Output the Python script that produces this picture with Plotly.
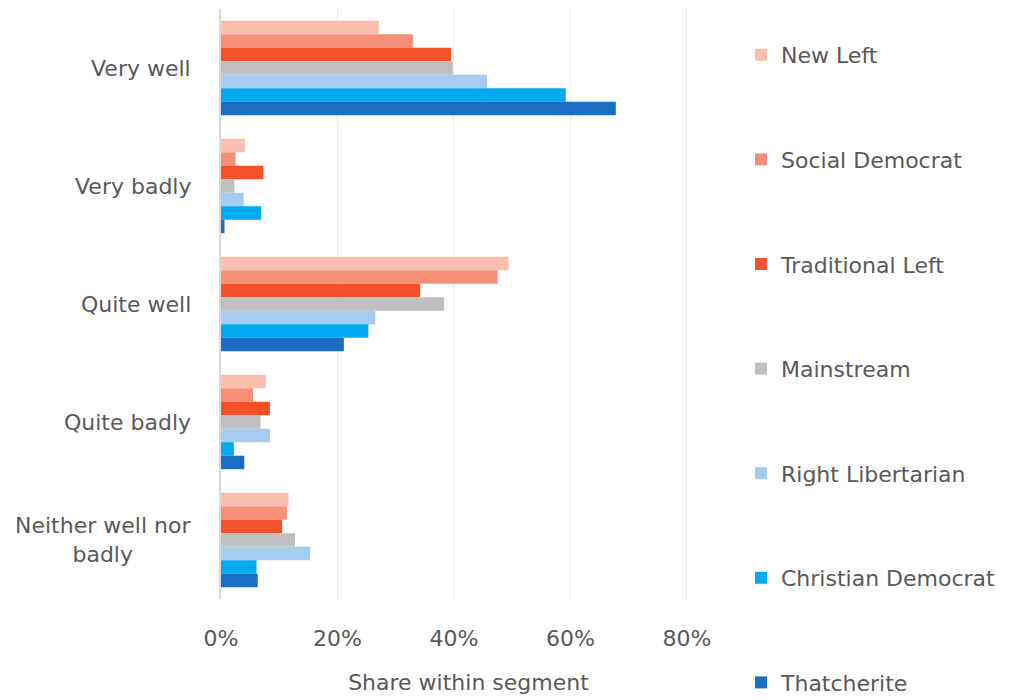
import plotly.graph_objects as go

categories = ["Very well", "Very badly", "Quite well", "Quite badly", "Neither well nor badly"]
category_labels = ["Very well", "Very badly", "Quite well", "Quite badly", "Neither well nor<br>badly"]

segments = ["New Left", "Social Democrat", "Traditional Left", "Mainstream",
            "Right Libertarian", "Christian Democrat", "Thatcherite"]

new_left = [27.1, 4.1, 49.4, 7.7, 11.6]
social_democrat = [33.0, 2.5, 47.5, 5.5, 11.3]
traditional_left = [39.5, 7.3, 34.2, 8.4, 10.5]
mainstream = [39.8, 2.3, 38.3, 6.8, 12.7]
right_libertarian = [45.7, 3.9, 26.5, 8.4, 15.3]
christian_democrat = [59.2, 6.9, 25.3, 2.2, 6.1]
thatcherite = [67.8, 0.6, 21.1, 4.0, 6.3]

series = [new_left, social_democrat, traditional_left, mainstream,
          right_libertarian, christian_democrat, thatcherite]
colors = ["#FBBFB0", "#F68F78", "#F4502A", "#BFBFBF", "#A6CBF1", "#00AAF1", "#1B6EC2"]

tick_vals = [0, 20, 40, 60, 80]
tick_text = ["0%", "20%", "40%", "60%", "80%"]

FONT = "DejaVu Sans"
GREY = "#595959"
FS = 22

fig = go.Figure()
for name, vals, col in zip(segments, series, colors):
    fig.add_trace(go.Bar(
        y=categories, x=vals, name=name, orientation="h",
        marker=dict(color=col, line=dict(width=0)),
        legendgroup=name,
    ))

for cat, lab in zip(categories, category_labels):
    fig.add_annotation(
        x=0, xref="paper", y=cat, yref="y", text=lab, showarrow=False,
        xanchor="right", align="center", xshift=-28,
        font=dict(family=FONT, size=FS, color=GREY),
    )

fig.update_layout(
    width=1017, height=700,
    margin=dict(l=221, r=301, t=9, b=101, autoexpand=False),
    paper_bgcolor="white", plot_bgcolor="white",
    barmode="group", bargap=0.2, bargroupgap=0,
    font=dict(family=FONT, size=FS, color=GREY),
    xaxis=dict(
        range=[0, 85], tickvals=tick_vals, ticktext=tick_text,
        showgrid=True, gridcolor="#EBEBEB", gridwidth=1, zeroline=False,
        ticks="outside", ticklen=20, tickcolor="rgba(0,0,0,0)",
        tickfont=dict(family=FONT, size=FS, color=GREY),
        title=dict(text="Share within segment", standoff=24,
                   font=dict(family=FONT, size=FS, color=GREY)),
        fixedrange=True, automargin=False,
    ),
    yaxis=dict(
        categoryorder="array", categoryarray=categories, autorange="reversed",
        showticklabels=False, showgrid=False, zeroline=False,
        showline=True, linecolor="#D9D9D9", linewidth=2,
        fixedrange=True, automargin=False,
    ),
    legend=dict(
        x=741 / 1017, xref="container", xanchor="left",
        y=1 - 34 / 700, yref="container", yanchor="top",
        tracegroupgap=73, traceorder="grouped",
        font=dict(family=FONT, size=FS, color=GREY),
        bgcolor="rgba(0,0,0,0)", maxheight=1000,
    ),
    showlegend=True,
)

fig.write_html("out.html", config={"displayModeBar": False},
               post_script="document.body.style.margin='0';")
